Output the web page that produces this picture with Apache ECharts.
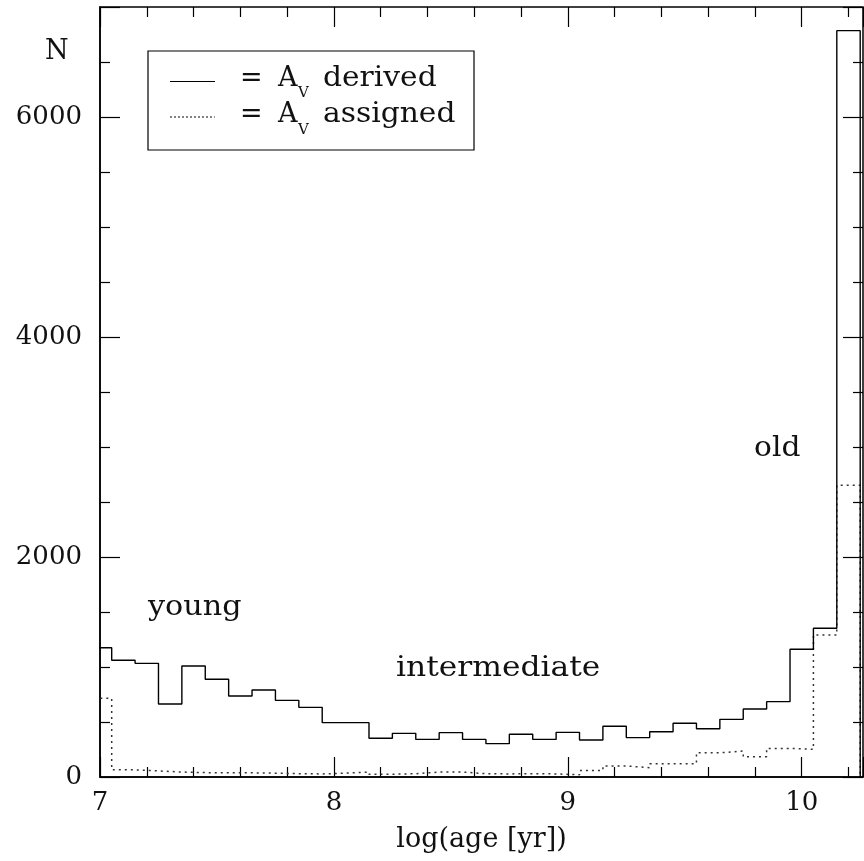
<!DOCTYPE html>
<html>
<head>
<meta charset="utf-8">
<title>log(age) histogram</title>
<script src="https://cdn.jsdelivr.net/npm/echarts@6/dist/echarts.min.js"></script>
<style>
  html, body { margin: 0; padding: 0; background: #fff; }
  #main { width: 864px; height: 861px; }
</style>
</head>
<body>
<div id="main"></div>
<script>
// bin centres of the log(age) histogram (width 0.1 dex)
var binCenters = [7.0, 7.1, 7.2, 7.3, 7.4, 7.5, 7.6, 7.7, 7.8, 7.9,
                  8.0, 8.1, 8.2, 8.3, 8.4, 8.5, 8.6, 8.7, 8.8, 8.9,
                  9.0, 9.1, 9.2, 9.3, 9.4, 9.5, 9.6, 9.7, 9.8, 9.9,
                  10.0, 10.1, 10.2];
var binHalfWidth = 0.05;

// N with A_V derived (solid)
var derived = [1175, 1061, 1033, 664, 1009, 888, 736, 791, 697, 633,
               494, 494, 352, 397, 342, 403, 342, 303, 388, 342,
               406, 336, 461, 358, 412, 488, 439, 524, 618, 685,
               1161, 1352, 6785];

// N with A_V assigned (dotted)
var assigned = [715, 65, 55, 45, 40, 38, 38, 35, 30, 28,
                35, 45, 25, 30, 45, 45, 30, 28, 30, 28,
                20, 60, 100, 85, 120, 120, 220, 236, 185, 260,
                252, 1291, 2652];

var xTicks = [7, 8, 9, 10];
var yTicks = [0, 2000, 4000, 6000];

var serifFont = 'DejaVu Serif';

// turn bins into step outline points
function stepPoints(vals) {
    var pts = [];
    for (var i = 0; i < binCenters.length; i++) {
        pts.push([binCenters[i] - binHalfWidth, vals[i]]);
        pts.push([binCenters[i] + binHalfWidth, vals[i]]);
    }
    pts.push([binCenters[binCenters.length - 1] + binHalfWidth, 0]);
    return pts;
}

// plain text helper for the overlay labels
function label(txt, x, y, size, sx) {
    return {
        type: 'text', x: x, y: y, scaleX: sx || 1,
        style: {
            text: txt, fontFamily: serifFont, fontSize: size, fill: '#111',
            align: 'left', verticalAlign: 'middle'
        }
    };
}

var chart = echarts.init(document.getElementById('main'));

var tickStyle = { show: true, inside: true, length: 20, lineStyle: { color: '#000', width: 1.2 } };

// bare axis used only for the tick marks of the top / right frame sides
function tickAxis(pos, isX) {
    return {
        type: 'value', position: pos,
        min: isX ? 7 : 0, max: isX ? 10.262 : 7000, interval: isX ? 1 : 2000,
        axisLine: { show: false, onZero: false },
        axisTick: tickStyle,
        minorTick: { show: true, splitNumber: isX ? 5 : 4, length: 10, lineStyle: { color: '#000', width: 1.2 } },
        splitLine: { show: false },
        axisLabel: { show: false }
    };
}

var option = {
    backgroundColor: '#fff',
    animation: false,
    grid: {
        left: 100, right: 1, top: 7, bottom: 84,
        outerBoundsMode: 'none',
        containLabel: false,
        show: true, borderColor: '#000', borderWidth: 1.5
    },
    xAxis: [{
        type: 'value', position: 'bottom',
        min: 7, max: 10.262, interval: 1,
        name: 'log(age [yr])',
        nameLocation: 'middle', nameGap: 49,
        nameTextStyle: { fontFamily: serifFont, fontSize: 27, color: '#111' },
        axisLine: { show: true, onZero: false, lineStyle: { color: '#000', width: 1.5 } },
        axisTick: tickStyle,
        minorTick: { show: true, splitNumber: 5, length: 10, lineStyle: { color: '#000', width: 1.2 } },
        splitLine: { show: false },
        axisLabel: {
            fontFamily: serifFont, fontSize: 26, color: '#111', margin: 13,
            showMaxLabel: false,
            formatter: function (v) { return xTicks.indexOf(v) >= 0 ? String(v) : ''; }
        }
    }, tickAxis('top', true)],
    yAxis: [{
        type: 'value', position: 'left',
        min: 0, max: 7000, interval: 2000,
        axisLine: { show: true, onZero: false, lineStyle: { color: '#000', width: 1.5 } },
        axisTick: tickStyle,
        minorTick: { show: true, splitNumber: 4, length: 10, lineStyle: { color: '#000', width: 1.2 } },
        splitLine: { show: false },
        axisLabel: {
            fontFamily: serifFont, fontSize: 26, color: '#111', margin: 18,
            showMaxLabel: false,
            formatter: function (v) { return yTicks.indexOf(v) >= 0 ? String(v) : ''; }
        }
    }, tickAxis('right', false)],
    series: [{
        name: 'derived',
        type: 'line',
        xAxisIndex: 0, yAxisIndex: 0,
        data: stepPoints(derived),
        symbol: 'none',
        lineStyle: { color: '#000', width: 1.4 },
        z: 3
    }, {
        name: 'assigned',
        type: 'line',
        xAxisIndex: 0, yAxisIndex: 0,
        data: stepPoints(assigned),
        symbol: 'none',
        lineStyle: { color: '#333', width: 1.5, type: [2, 4] },
        z: 2
    }],
    graphic: [
        label('N', 45, 52, 27),
        // legend box
        { type: 'rect', shape: { x: 148, y: 51, width: 326, height: 99 },
          style: { fill: 'none', stroke: '#000', lineWidth: 1.2 } },
        { type: 'line', shape: { x1: 170, y1: 81.5, x2: 215, y2: 81.5 },
          style: { stroke: '#000', lineWidth: 1.2 } },
        { type: 'line', shape: { x1: 170, y1: 117, x2: 215, y2: 117 },
          style: { stroke: '#333', lineWidth: 1.2, lineDash: [2, 2] } },
        label('=', 240, 79, 27),
        label('A', 278, 79, 27),
        label('V', 298, 93, 15),
        label('derived', 323, 79, 27, 1.1),
        label('=', 240, 115, 27),
        label('A', 278, 115, 27),
        label('V', 298, 130, 15),
        label('assigned', 323, 115, 27, 1.1),
        // region annotations
        label('young', 148, 608, 27, 1.12),
        label('intermediate', 396, 669, 27, 1.16),
        label('old', 754, 449, 27, 1.1)
    ]
};

chart.setOption(option);
</script>
</body>
</html>
